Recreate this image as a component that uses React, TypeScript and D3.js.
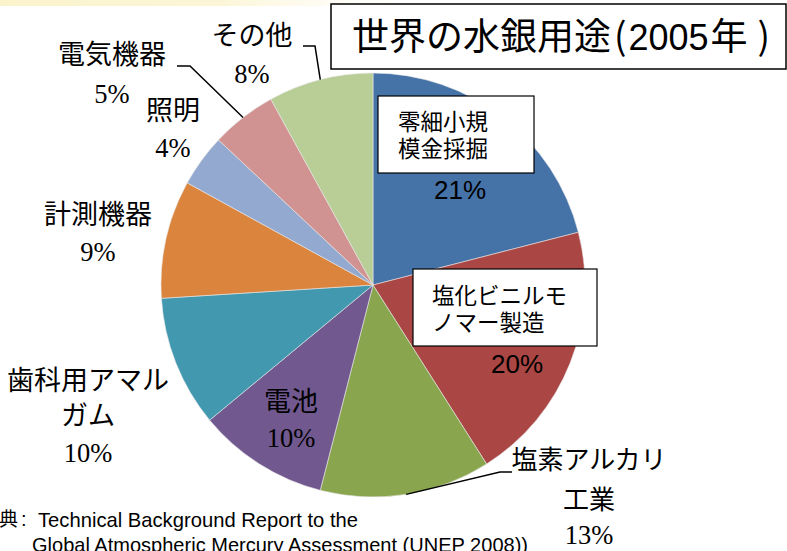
import React from "react";
import * as d3 from "d3";

const categories = [
  "零細小規模金採掘",
  "塩化ビニルモノマー製造",
  "塩素アルカリ工業",
  "電池",
  "歯科用アマルガム",
  "計測機器",
  "照明",
  "電気機器",
  "その他",
];
const shares = [21, 20, 13, 10, 10, 9, 4, 5, 8];
const colors = [
  "#4572A7",
  "#AA4643",
  "#89A54E",
  "#71588F",
  "#4198AF",
  "#DB843D",
  "#93A9CF",
  "#D19392",
  "#B9CD96",
];

const titleMain = "世界の水銀用途";
const titleYear = "2005";
const sourceLine1 = "Technical Background Report to the";
const sourceLine2 = "Global Atmospheric Mercury Assessment (UNEP 2008))";

const width = 787;
const height = 551;
const cx = 373;
const cy = 285;
const radius = 212;

const jp = "'Noto Sans CJK JP', 'Noto Sans', sans-serif";
const serif = "'Liberation Serif', 'DejaVu Serif', serif";
const sans = "'Liberation Sans', Arial, sans-serif";

// label layout per slice (index matches categories)
const outerLabels = [
  { i: 2, lines: ["塩素アルカリ", "工業"], x: 589, y: [469, 509], py: 544, fs: 26, leader: [[512, 472], [500, 472]] },
  { i: 3, lines: ["電池"], x: 291, y: [411], py: 447, fs: 27, leader: null },
  { i: 4, lines: ["歯科用アマル", "ガム"], x: 88, y: [390, 425], py: 462, fs: 27, leader: null },
  { i: 5, lines: ["計測機器"], x: 98, y: [224], py: 261, fs: 27, leader: null },
  { i: 6, lines: ["照明"], x: 173, y: [120], py: 157, fs: 27, leader: null },
  { i: 7, lines: ["電気機器"], x: 112, y: [64], py: 103, fs: 27, leader: [[177, 66], [190, 66]] },
  { i: 8, lines: ["その他"], x: 252, y: [45], py: 83, fs: 27, leader: [[303, 46], [315, 46]] },
];

const boxLabels = [
  { i: 0, lines: ["零細小規", "模金採掘"], box: [378, 96, 156, 77], tx: 398, ty: [130, 157], px: 460, py: 199 },
  { i: 1, lines: ["塩化ビニルモ", "ノマー製造"], box: [413, 269, 184, 77], tx: 432, ty: [304, 331], px: 517, py: 373 },
];

export default function App() {
  const pie = d3
    .pie<number>()
    .sort(null)
    .value((d) => d);
  const arcs = pie(shares);
  const arc = d3.arc<d3.PieArcDatum<number>>().innerRadius(0).outerRadius(radius);
  const edge = d3.arc<d3.PieArcDatum<number>>().innerRadius(radius).outerRadius(radius);

  return (
    <svg
      width={width}
      height={height}
      style={{ position: "absolute", left: 0, top: 0, background: "#fff" }}
    >
      <defs>
        <linearGradient id="topband" x1="0" x2="1" y1="0" y2="0">
          <stop offset="0" stopColor="#fbf3cc" />
          <stop offset="0.5" stopColor="#fcf6d8" />
          <stop offset="1" stopColor="#ffffff" stopOpacity="0" />
        </linearGradient>
      </defs>
      <rect x={0} y={0} width={450} height={6} fill="url(#topband)" />

      <g transform={`translate(${cx},${cy})`}>
        {arcs.map((a, i) => (
          <path key={i} d={arc(a) || ""} fill={colors[i]} stroke="#e8e8e8" strokeWidth={0.6} />
        ))}
      </g>

      {/* title */}
      <rect x={331} y={4} width={455} height={65} fill="#fff" stroke="#000" strokeWidth={1.5} />
      <text x={352} y={50} fontFamily={jp} fontSize={37} fill="#000">
        {titleMain}
        <tspan dx={3}>(</tspan>
        <tspan dx={2} fontFamily={sans} fontSize={36}>{titleYear}</tspan>
        <tspan dx={2}>年</tspan>
        <tspan dx={10}>)</tspan>
      </text>

      {/* boxed labels */}
      {boxLabels.map((b) => (
        <g key={b.i}>
          <rect x={b.box[0]} y={b.box[1]} width={b.box[2]} height={b.box[3]} fill="#fff" stroke="#000" strokeWidth={1.2} />
          {b.lines.map((l, k) => (
            <text key={k} x={b.tx} y={b.ty[k]} fontFamily={jp} fontSize={22.5} fill="#000">
              {l}
            </text>
          ))}
          <text x={b.px} y={b.py} fontFamily={sans} fontSize={26} textAnchor="middle" fill="#000">
            {shares[b.i]}%
          </text>
        </g>
      ))}

      {/* outer labels */}
      {outerLabels.map((o) => {
        const [ex, ey] = edge.centroid(arcs[o.i]);
        const pts = o.leader ? [...o.leader, [ex + cx, ey + cy]] : null;
        return (
          <g key={o.i}>
            {pts && (
              <polyline
                points={pts.map((p) => p.join(",")).join(" ")}
                fill="none"
                stroke="#000"
                strokeWidth={1.5}
              />
            )}
            {o.lines.map((l, k) => (
              <text key={k} x={o.x} y={o.y[k]} fontFamily={jp} fontSize={o.fs} textAnchor="middle" fill="#000">
                {l}
              </text>
            ))}
            <text x={o.x} y={o.py} fontFamily={serif} fontSize={26.5} textAnchor="middle" fill="#000">
              {shares[o.i]}%
            </text>
          </g>
        );
      })}

      {/* source */}
      <text x={18} y={526} fontFamily={jp} fontSize={19} textAnchor="end" fill="#000">
        出典
      </text>
      <text x={21} y={526} fontFamily={sans} fontSize={20} fill="#000">
        :
      </text>
      <text x={38} y={527} fontFamily={sans} fontSize={21} textLength={320} lengthAdjust="spacingAndGlyphs" fill="#000">
        {sourceLine1}
      </text>
      <text x={32} y={552} fontFamily={sans} fontSize={21} textLength={496} lengthAdjust="spacingAndGlyphs" fill="#000">
        {sourceLine2}
      </text>
    </svg>
  );
}
